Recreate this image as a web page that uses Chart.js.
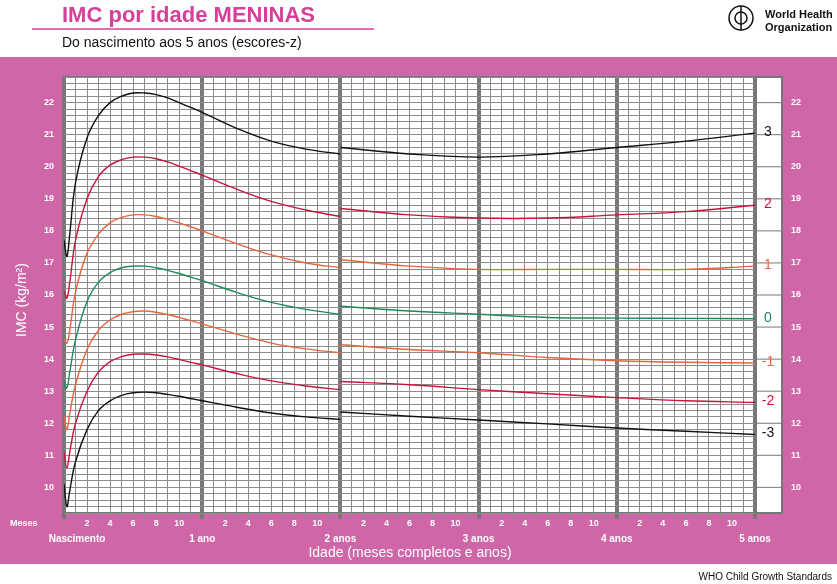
<html>
<head>
<style>html,body{margin:0;background:#fff}</style>
<script src="https://cdn.jsdelivr.net/npm/chart.js@4"></script>
</head>
<body>
<canvas id="c" width="837" height="584" style="width:837px;height:584px"></canvas>
<script>
// months for birth–2 years (lying) and 2–5 years (standing)
const monthsA = [0, 0.25, 0.5, 1, 2, 3, 4, 5, 6, 7, 8, 9, 10, 11, 12, 15, 18, 21, 24];
const monthsB = [24, 30, 36, 42, 48, 54, 60];
const zLabels = ['3', '2', '1', '0', '-1', '-2', '-3'];
const zColors = ['#111', '#c8143c', '#e8643c', '#1e8a5a', '#e8643c', '#c8143c', '#111'];
const curvesA = [
  [17.7, 17.2, 17.9, 19.5, 20.9, 21.6, 22.0, 22.2, 22.3, 22.3, 22.25, 22.15, 22.0, 21.85, 21.7, 21.2, 20.8, 20.55, 20.4],
  [16.1, 15.9, 16.4, 17.7, 19.0, 19.7, 20.05, 20.22, 20.3, 20.3, 20.25, 20.15, 20.02, 19.88, 19.74, 19.3, 18.92, 18.65, 18.45],
  [14.6, 14.5, 14.9, 16.1, 17.3, 17.9, 18.25, 18.42, 18.5, 18.5, 18.45, 18.36, 18.25, 18.13, 18.0, 17.6, 17.25, 17.0, 16.85],
  [13.3, 13.1, 13.6, 14.6, 15.8, 16.4, 16.7, 16.85, 16.9, 16.9, 16.85, 16.77, 16.67, 16.56, 16.45, 16.08, 15.77, 15.55, 15.4],
  [12.2, 11.8, 12.3, 13.2, 14.3, 14.9, 15.22, 15.4, 15.48, 15.5, 15.46, 15.39, 15.3, 15.2, 15.1, 14.78, 14.5, 14.32, 14.2],
  [11.1, 10.6, 11.1, 12.0, 13.0, 13.6, 13.92, 14.08, 14.15, 14.16, 14.13, 14.07, 13.99, 13.9, 13.82, 13.55, 13.32, 13.16, 13.05],
  [10.1, 9.4, 9.9, 10.8, 11.8, 12.4, 12.7, 12.87, 12.95, 12.97, 12.95, 12.9, 12.84, 12.77, 12.7, 12.5, 12.32, 12.2, 12.12]
];
const curvesB = [
  [20.6, 20.4, 20.3, 20.4, 20.6, 20.8, 21.05],
  [18.7, 18.5, 18.4, 18.4, 18.5, 18.6, 18.8],
  [17.1, 16.9, 16.8, 16.8, 16.8, 16.8, 16.9],
  [15.65, 15.5, 15.4, 15.3, 15.28, 15.27, 15.26],
  [14.45, 14.3, 14.2, 14.05, 13.95, 13.9, 13.88],
  [13.3, 13.2, 13.05, 12.92, 12.8, 12.7, 12.65],
  [12.35, 12.22, 12.1, 11.98, 11.85, 11.75, 11.65]
];
const yTicks = [10, 11, 12, 13, 14, 15, 16, 17, 18, 19, 20, 21, 22];
const monthTicks = [2, 4, 6, 8, 10];
const yearLabels = ['Nascimento', '1 ano', '2 anos', '3 anos', '4 anos', '5 anos'];

const datasets = [];
curvesA.forEach((v, i) => datasets.push({ data: monthsA.map((m, j) => ({ x: m, y: v[j] })), borderColor: zColors[i] }));
curvesB.forEach((v, i) => datasets.push({ data: monthsB.map((m, j) => ({ x: m, y: v[j] })), borderColor: zColors[i] }));

const pink = '#cf66a8';
const decor = {
  id: 'decor',
  beforeDraw(ch) {
    const g = ch.ctx, a = ch.chartArea, ys = ch.scales.y;
    g.save();
    g.fillStyle = '#fff'; g.fillRect(0, 0, 837, 584);
    g.fillStyle = pink; g.fillRect(0, 57, 837, 507);
    g.fillStyle = '#fff'; g.fillRect(a.left, a.top, a.right - a.left + 27, a.bottom - a.top);
    // right strip ticks
    g.strokeStyle = '#777'; g.lineWidth = 1;
    yTicks.forEach(t => { const y = ys.getPixelForValue(t); g.beginPath(); g.moveTo(a.right, y); g.lineTo(a.right + 27, y); g.stroke(); });
    g.strokeStyle = '#777'; g.lineWidth = 2;
    g.strokeRect(a.left, a.top, a.right - a.left + 27, a.bottom - a.top);
    g.restore();
  },
  afterDraw(ch) {
    const g = ch.ctx, a = ch.chartArea, xs = ch.scales.x, ys = ch.scales.y;
    g.save();
    g.fillStyle = '#fff'; g.font = 'bold 9px "Liberation Sans"'; g.textBaseline = 'middle';
    yTicks.forEach(t => {
      const y = ys.getPixelForValue(t);
      g.textAlign = 'right'; g.fillText(t, 54, y);
      g.textAlign = 'left'; g.fillText(t, 791, y);
    });
    g.textAlign = 'center';
    for (let yr = 0; yr < 5; yr++) monthTicks.forEach(m => g.fillText(m, xs.getPixelForValue(yr * 12 + m), 524));
    g.textAlign = 'left'; g.fillText('Meses', 10, 524);
    g.font = 'bold 10px "Liberation Sans"'; g.textAlign = 'center';
    yearLabels.forEach((l, i) => g.fillText(l, i === 0 ? 77 : xs.getPixelForValue(i * 12), 539));
    g.font = '14px "Liberation Sans"';
    g.fillText('Idade (meses completos e anos)', 410, 553);
    g.save(); g.translate(22, 300); g.rotate(-Math.PI / 2);
    g.fillText('IMC (kg/m²)', 0, 0); g.restore();
    // z labels
    g.font = '14px "Liberation Sans"';
    zLabels.forEach((z, i) => {
      const v = curvesB[i][curvesB[i].length - 1];
      g.fillStyle = zColors[i]; g.textAlign = 'center';
      g.fillText(z, 768, ys.getPixelForValue(v) - 1);
    });
    // header
    g.fillStyle = '#d6409a'; g.textAlign = 'left'; g.textBaseline = 'alphabetic';
    g.font = 'bold 22px "Liberation Sans"';
    g.fillText('IMC por idade MENINAS', 62, 22);
    g.strokeStyle = '#d6409a'; g.lineWidth = 1.5;
    g.beginPath(); g.moveTo(32, 29); g.lineTo(374, 29); g.stroke();
    g.fillStyle = '#111'; g.font = '14px "Liberation Sans"';
    g.fillText('Do nascimento aos 5 anos (escores-z)', 62, 47);
    g.font = 'bold 11px "Liberation Sans"';
    g.fillText('World Health', 765, 18); g.fillText('Organization', 765, 31);
    g.strokeStyle = '#111'; g.lineWidth = 1.5;
    g.beginPath(); g.arc(741, 18, 12, 0, Math.PI * 2); g.stroke();
    g.beginPath(); g.arc(741, 18, 6, 0, Math.PI * 2); g.stroke();
    g.beginPath(); g.moveTo(741, 6); g.lineTo(741, 30); g.stroke();
    g.font = '10px "Liberation Sans"'; g.textAlign = 'right';
    g.fillText('WHO Child Growth Standards', 832, 580);
    g.restore();
  }
};

new Chart(document.getElementById('c'), {
  type: 'line',
  data: { datasets },
  options: {
    responsive: false, animation: false,
    layout: { padding: { left: 64, right: 82, top: 77, bottom: 65 } },
    elements: { point: { radius: 0 }, line: { borderWidth: 1.4, tension: 0.4 } },
    plugins: { legend: { display: false }, tooltip: { enabled: false } },
    scales: {
      x: {
        type: 'linear', min: 0, max: 60, border: { display: false },
        ticks: { display: false, stepSize: 1 },
        grid: {
          color: c => c.tick.value % 12 === 0 ? '#777' : '#8c8c8c',
          lineWidth: c => c.tick.value % 12 === 0 ? 4 : 1,
          drawTicks: true, tickLength: 6
        }
      },
      y: {
        min: 9.2, max: 22.8, border: { display: false },
        ticks: { display: false, stepSize: 0.2 },
        grid: { color: '#8c8c8c', lineWidth: 1, drawTicks: false }
      }
    }
  },
  plugins: [decor]
});
</script>
</body>
</html>
